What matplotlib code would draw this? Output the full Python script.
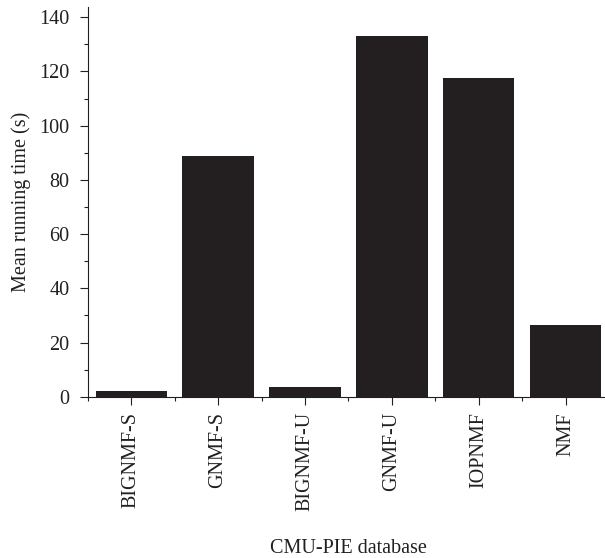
import matplotlib
matplotlib.use("Agg")
import matplotlib.pyplot as plt
from matplotlib.ticker import MultipleLocator, FixedLocator

# Mean running time on CMU-PIE
methods = ["BIGNMF-S", "GNMF-S", "BIGNMF-U", "GNMF-U", "IOPNMF", "NMF"]
run_time = [2.2, 89.0, 3.6, 133.1, 117.6, 26.5]

plt.rcParams["font.family"] = ["Liberation Serif", "DejaVu Serif"]
fs = 14.5

bar_color = "#231f20"
ink = "#231f20"

fig = plt.figure(figsize=(6.05, 5.58), dpi=100)
ax = fig.add_axes([0.145, 0.289, 0.862, 0.698])

x = list(range(len(methods)))
ax.bar(x, run_time, width=0.82, color=bar_color, edgecolor="none")

ax.set_xlim(-0.5, 5.5)
ax.set_ylim(0, 143.7)

ax.set_xticks(x)
ax.set_xticklabels(methods, rotation=90, va="top")
ax.xaxis.set_minor_locator(FixedLocator([i + 0.5 for i in range(-1, len(methods))]))
ax.yaxis.set_major_locator(MultipleLocator(20))
ax.yaxis.set_minor_locator(MultipleLocator(10))

ax.tick_params(axis="both", which="major", direction="out", length=6, width=0.8,
               color=ink, labelcolor=ink, labelsize=fs)
ax.tick_params(axis="both", which="minor", direction="out", length=3, width=0.8, color=ink)
ax.tick_params(axis="x", which="major", pad=5)
ax.tick_params(axis="y", which="major", pad=7)

for side in ["top", "right"]:
    ax.spines[side].set_visible(False)
for side in ["left", "bottom"]:
    ax.spines[side].set_linewidth(0.8)
    ax.spines[side].set_color(ink)

ax.set_ylabel("Mean running time (s)", fontsize=fs, color=ink, labelpad=6)
ax.set_xlabel("CMU-PIE database", fontsize=fs, color=ink, labelpad=20)

fig.savefig("out.png", dpi=100)
